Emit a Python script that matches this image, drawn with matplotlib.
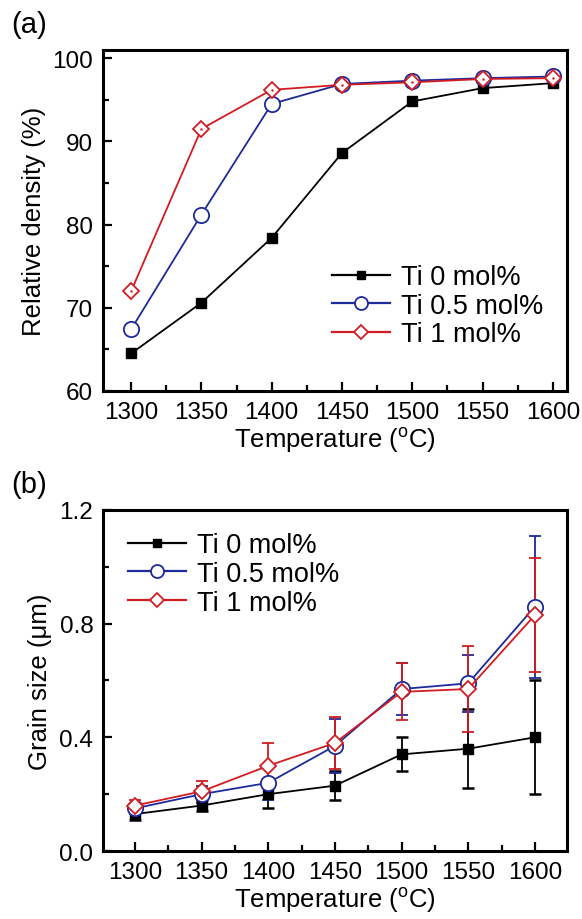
import matplotlib
matplotlib.use("Agg")
import matplotlib.pyplot as plt
from matplotlib.ticker import MultipleLocator
from matplotlib.lines import Line2D

plt.rcParams['font.family'] = ['Liberation Sans', 'DejaVu Sans']
plt.rcParams['mathtext.fontset'] = 'custom'
plt.rcParams['mathtext.rm'] = 'Liberation Sans'

temps = [1300, 1350, 1400, 1450, 1500, 1550, 1600]
labels = ['Ti 0 mol%', 'Ti 0.5 mol%', 'Ti 1 mol%']

dens_ti0 = [64.5, 70.6, 78.4, 88.6, 94.8, 96.4, 97.0]
dens_ti05 = [67.4, 81.2, 94.5, 96.9, 97.3, 97.6, 97.8]
dens_ti1 = [72.0, 91.5, 96.2, 96.8, 97.1, 97.5, 97.6]

grain_ti0 = [0.13, 0.16, 0.20, 0.23, 0.34, 0.36, 0.40]
err_ti0 = [0.02, 0.02, 0.05, 0.05, 0.06, 0.14, 0.20]
grain_ti05 = [0.15, 0.20, 0.24, 0.37, 0.57, 0.59, 0.86]
err_ti05 = [0.02, 0.03, 0.06, 0.095, 0.09, 0.10, 0.25]
grain_ti1 = [0.16, 0.21, 0.30, 0.38, 0.56, 0.57, 0.83]
err_ti1 = [0.02, 0.035, 0.08, 0.09, 0.10, 0.15, 0.20]

colors = ['#000000', '#1c2a9a', '#d01c22']
TFS = 17.5
LFS = 18.5
LEGFS = 19.5

fig = plt.figure(figsize=(5.82, 9.20), dpi=100)
ax1 = fig.add_axes([0.177, 0.574, 0.797, 0.3707])
ax2 = fig.add_axes([0.177, 0.0739, 0.797, 0.3707])

def style(ax):
    for s in ax.spines.values():
        s.set_linewidth(2.2)
    ax.tick_params(which='both', direction='in', top=False, right=False,
                   labelsize=TFS, width=1.6, pad=7)
    ax.tick_params(which='major', length=6.5)
    ax.tick_params(which='minor', length=4)
    ax.set_xticks(temps)
    ax.xaxis.set_minor_locator(MultipleLocator(25))
    ax.set_xlabel(r'Temperature ($^{\rm o}$C)', fontsize=LFS, labelpad=1)

lw = 1.3
mk = [dict(marker='s', ms=7.5, mfc=colors[0], mec=colors[0]),
      dict(marker='o', ms=11, mfc='white', mec=colors[1], mew=1.3),
      dict(marker='D', ms=8.5, mfc='white', mec=colors[2], mew=1.3)]

# panel (a)
for y, c, m in zip([dens_ti0, dens_ti05, dens_ti1], colors, mk):
    ax1.plot(temps, y, '-', color=c, lw=lw, **m)
ax1.plot(temps, dens_ti1, '.', color=colors[2], ms=1.5)
ax1.set_xlim(1280, 1610)
ax1.set_ylim(60, 101)
ax1.set_yticks([60, 70, 80, 90, 100])
ax1.yaxis.set_minor_locator(MultipleLocator(5))
ax1.set_ylabel('Relative density (%)', fontsize=LFS, labelpad=5)
style(ax1)

def handles():
    hs = []
    for c, m in zip(colors, mk):
        mm = dict(m)
        mm['ms'] = mm['ms'] * 0.85
        hs.append(Line2D([], [], color=c, lw=1.6, **mm))
    return hs

leg_kw = dict(frameon=False, fontsize=LEGFS, handlelength=2.15, handletextpad=0.4,
              labelspacing=0.1, borderaxespad=0, borderpad=0, loc='upper left')
ax1.legend(handles(), labels, bbox_to_anchor=(0.4935, 0.372), **leg_kw)

# panel (b)
cap = 4.5
for y, e, c, m in zip([grain_ti0, grain_ti05, grain_ti1], [err_ti0, err_ti05, err_ti1], colors, mk):
    ax2.errorbar(temps, y, yerr=e, fmt='-', color=c, lw=lw, capsize=cap,
                 elinewidth=1.3, capthick=1.8, **m)
ax2.plot(temps, grain_ti1, '.', color=colors[2], ms=1.5)
ax2.set_xlim(1276, 1624)
ax2.set_ylim(0, 1.2)
ax2.set_yticks([0.0, 0.4, 0.8, 1.2])
ax2.set_yticklabels(['0.0', '0.4', '0.8', '1.2'])
ax2.yaxis.set_minor_locator(MultipleLocator(0.2))
ax2.set_ylabel('Grain size (\u03bcm)', fontsize=LFS, labelpad=5)
style(ax2)
ax2.legend(handles(), labels, bbox_to_anchor=(0.054, 0.935), **leg_kw)

fig.text(0.02, 0.973, '(a)', fontsize=21, va='center', ha='left')
fig.text(0.02, 0.473, '(b)', fontsize=21, va='center', ha='left')

fig.savefig('out.png', dpi=100)
